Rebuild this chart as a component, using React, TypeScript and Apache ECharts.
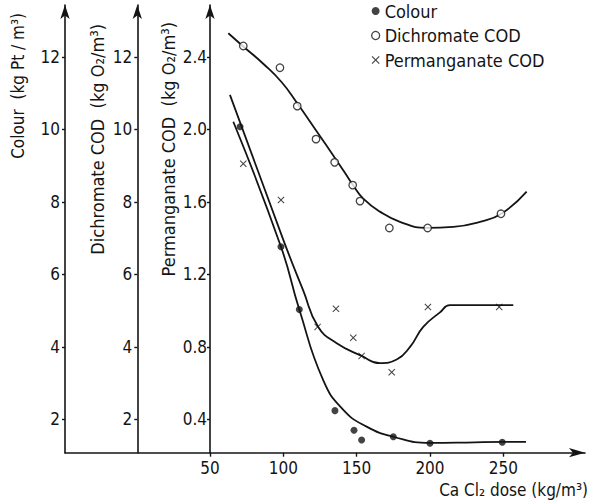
import React, { useEffect, useRef } from "react";
import * as echarts from "echarts";

// ---- tick labels ----
const xTicks = [50, 100, 150, 200, 250];
const colourTicks = [2, 4, 6, 8, 10, 12];
const dichromateTicks = [2, 4, 6, 8, 10, 12];
const permanganateTicks = [0.4, 0.8, 1.2, 1.6, 2.0, 2.4];

// ---- measured points ----
const colourDose = [70.5, 98.4, 110.9, 135.2, 148.2, 153.4, 175.0, 200.0, 249.3];
const colourValue = [10.07, 6.76, 5.03, 2.24, 1.7, 1.43, 1.52, 1.34, 1.37];

const dichromateDose = [72.7, 97.7, 109.5, 122.3, 135.0, 147.3, 152.3, 172.3, 198.4, 248.4];
const dichromateValue = [12.3, 11.7, 10.64, 9.73, 9.09, 8.46, 8.02, 7.28, 7.28, 7.67];

const permanganateDose = [72.7, 98.4, 123.4, 135.9, 147.7, 153.4, 173.9, 198.6, 247.2];
const permanganateValue = [1.81, 1.61, 0.91, 1.01, 0.85, 0.75, 0.66, 1.02, 1.02];

// ---- hand-drawn fitted curves ----
const colourCurveDose = [65.9, 98.4, 110.9, 127.2, 140.9, 156.8, 175.0, 200.0, 225.0, 250.0, 265.5];
const colourCurveValue = [10.21, 6.76, 5.03, 3.08, 2.26, 1.8, 1.52, 1.35, 1.36, 1.38, 1.38];

const dichromateCurveDose = [62.5, 72.3, 86.3, 98.9, 109.5, 122.7, 135.2, 142.0, 147.7, 154.5, 165.9, 179.5, 197.7, 215.9, 234.1, 248.9, 265.9];
const dichromateCurveValue = [12.65, 12.3, 11.81, 11.3, 10.72, 9.95, 9.21, 8.8, 8.45, 8.09, 7.73, 7.45, 7.28, 7.31, 7.45, 7.68, 8.28];

const permanganateCurveDose = [63.6, 100.0, 113.6, 123.8, 136.4, 153.4, 165.9, 177.3, 186.4, 195.4, 206.8, 213.6, 234.1, 256.8];
const permanganateCurveValue = [2.19, 1.39, 1.11, 0.91, 0.82, 0.75, 0.71, 0.73, 0.8, 0.91, 0.99, 1.03, 1.03, 1.03];

const FONT = "'DejaVu Sans Condensed', 'DejaVu Sans', sans-serif";
const INK = "#141414";
const CROSS =
  "path://M1,0 L5,4 L9,0 L10,1 L6,5 L10,9 L9,10 L5,6 L1,10 L0,9 L4,5 L0,1 Z";

const zip = (a: number[], b: number[]) => a.map((v, i) => [v, b[i]]);

export default function App() {
  const ref = useRef<HTMLDivElement>(null);
  useEffect(() => {
    if (!ref.current) return;
    const chart = echarts.init(ref.current, undefined, { renderer: "svg" });

    const yBase = (offset: number, min: number, max: number, ticks: number[], fmt: (v: number) => string, margin: number) => ({
      type: "value",
      position: "left",
      offset,
      min,
      max,
      splitLine: { show: false },
      axisLine: {
        show: true,
        onZero: false,
        symbol: ["none", "arrow"],
        symbolSize: [7, 14],
        lineStyle: { color: INK, width: 1.6 },
      },
      axisTick: { show: true, length: 3, customValues: ticks, lineStyle: { color: INK, width: 1.4 } },
      axisLabel: {
        show: true,
        customValues: ticks,
        formatter: fmt,
        margin,
        color: INK,
        fontSize: 17,
        fontFamily: FONT,
      },
    });

    const cMin = 1.08;
    const cMax = 13.43;

    const curve = (name: string, yAxisIndex: number, data: number[][]) => ({
      name,
      type: "line",
      yAxisIndex,
      smooth: 0.5,
      showSymbol: false,
      lineStyle: { color: INK, width: 1.8 },
      data,
    });

    chart.setOption({
      animation: false,
      backgroundColor: "#ffffff",
      grid: { left: 65, right: 5, top: 5, bottom: 48.3, containLabel: false },
      legend: {
        orient: "vertical",
        left: 371,
        top: 2,
        padding: 0,
        itemWidth: 8,
        itemHeight: 8,
        itemGap: 6.5,
        textStyle: { fontSize: 18, color: INK, fontFamily: FONT },
        data: [
          { name: "Colour", icon: "circle", itemStyle: { color: INK, borderWidth: 0 } },
          {
            name: "Dichromate COD",
            icon: "circle",
            itemStyle: { color: "#ffffff", borderColor: INK, borderWidth: 1.3 },
          },
          { name: "Permanganate COD", icon: CROSS, itemStyle: { color: INK, borderWidth: 0 } },
        ],
      },
      xAxis: {
        type: "value",
        min: -48.86,
        max: 305.7,
        splitLine: { show: false },
        axisLine: {
          show: true,
          onZero: false,
          symbol: ["none", "arrow"],
          symbolSize: [7, 16],
          lineStyle: { color: INK, width: 1.6 },
        },
        axisTick: { show: true, length: 4, customValues: xTicks, lineStyle: { color: INK, width: 1.4 } },
        axisLabel: {
          customValues: xTicks,
          margin: 7,
          color: INK,
          fontSize: 17,
          fontFamily: FONT,
        },
      },
      yAxis: [
        yBase(0, cMin, cMax, colourTicks, (v: number) => String(v), 5),
        yBase(-72.3, cMin, cMax, dichromateTicks, (v: number) => String(v), 5),
        yBase(-145, cMin / 5, cMax / 5, permanganateTicks, (v: number) => v.toFixed(1), 3),
      ],
      series: [
        {
          name: "Colour",
          type: "scatter",
          yAxisIndex: 0,
          symbol: "circle",
          symbolSize: 7,
          itemStyle: { color: INK },
          data: zip(colourDose, colourValue),
          z: 5,
        },
        {
          name: "Dichromate COD",
          type: "scatter",
          yAxisIndex: 1,
          symbol: "circle",
          symbolSize: 7.5,
          itemStyle: { color: "#fff", borderColor: INK, borderWidth: 1.3 },
          data: zip(dichromateDose, dichromateValue),
          z: 5,
        },
        {
          name: "Permanganate COD",
          type: "scatter",
          yAxisIndex: 2,
          symbol: CROSS,
          symbolSize: 7,
          itemStyle: { color: INK },
          data: zip(permanganateDose, permanganateValue),
          z: 5,
        },
        curve("Colour fit", 0, zip(colourCurveDose, colourCurveValue)),
        curve("Dichromate fit", 1, zip(dichromateCurveDose, dichromateCurveValue)),
        curve("Permanganate fit", 2, zip(permanganateCurveDose, permanganateCurveValue)),
      ],
      graphic: [
        {
          type: "text",
          x: 18,
          y: 13,
          rotation: Math.PI / 2,
          style: {
            text: "Colour  (kg Pt / m³)",
            fill: INK,
            fontSize: 17,
            fontFamily: FONT,
            align: "right",
            verticalAlign: "middle",
          },
        },
        {
          type: "text",
          x: 97,
          y: 24,
          rotation: Math.PI / 2,
          style: {
            text: "Dichromate COD  (kg O₂/m³)",
            fill: INK,
            fontSize: 18,
            fontFamily: FONT,
            align: "right",
            verticalAlign: "middle",
          },
        },
        {
          type: "text",
          x: 168,
          y: 22,
          rotation: Math.PI / 2,
          style: {
            text: "Permanganate COD  (kg O₂/m³)",
            fill: INK,
            fontSize: 18,
            fontFamily: FONT,
            align: "right",
            verticalAlign: "middle",
          },
        },
        {
          type: "text",
          x: 588,
          y: 490,
          style: {
            text: "Ca Cl₂ dose (kg/m³)",
            fill: INK,
            fontSize: 17,
            fontFamily: FONT,
            align: "right",
            verticalAlign: "middle",
          },
        },
      ],
    });
    return () => chart.dispose();
  }, []);
  return (
    <div
      ref={ref}
      style={{ position: "fixed", left: 0, top: 0, width: 590, height: 501, background: "#fff" }}
    />
  );
}
